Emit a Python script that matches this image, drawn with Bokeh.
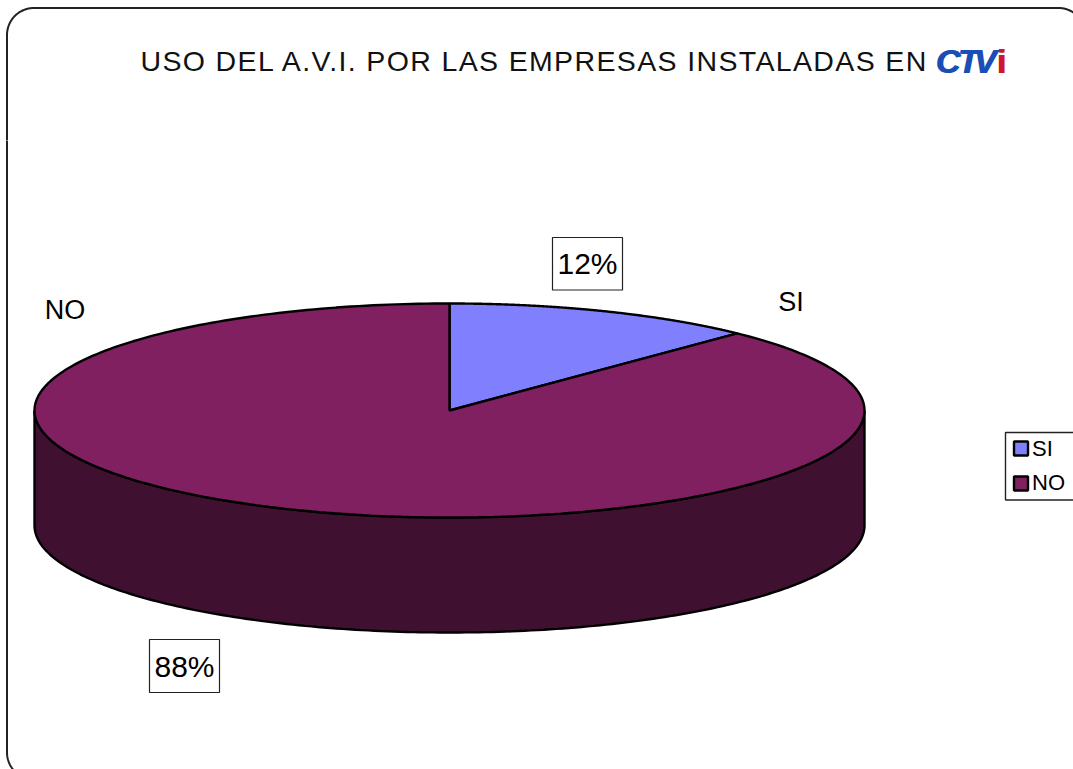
import numpy as np
from bokeh.plotting import figure
from bokeh.layouts import column
from bokeh.models import Range1d
from bokeh.core.properties import value
from bokeh.embed import file_html
from bokeh.resources import INLINE

categories = ["SI", "NO"]
shares = [12.2, 87.8]
pct_labels = ["12%", "88%"]
title_text = "USO DEL A.V.I. POR LAS EMPRESAS INSTALADAS EN"
colors = ["#8080FF", "#802060"]
side_color = "#401030"

W, H, SPLIT = 1073, 769, 140
FONT = value("Liberation Sans")


def panel(y0, y1, **kw):
    f = figure(width=W, height=y1 - y0, x_range=Range1d(0, W), y_range=Range1d(y1, y0),
               toolbar_location=None, output_backend="svg", min_border=0,
               outline_line_color=None, background_fill_color="white",
               border_fill_color="white", **kw)
    f.axis.visible = False
    f.grid.visible = False
    return f


top = panel(0, SPLIT, styles={"letter-spacing": "1.36px"})
p = panel(SPLIT, H)

# frame with rounded corners, one open path per panel so nothing runs across the seam
r = 27
t = np.linspace(0, np.pi / 2, 24)
L, T, R, B = 6.5, 7.5, 1085, 779
top.line(np.r_[L, L + r - r * np.cos(t), R - r + r * np.sin(t), R],
         np.r_[SPLIT + 2, T + r - r * np.sin(t), T + r - r * np.cos(t), SPLIT + 2],
         line_color="#222222", line_width=2)
p.line(np.r_[L, L + r - r * np.sin(t)[::-1], R - r + r * np.cos(t)[::-1], R],
       np.r_[SPLIT - 2, B - r + r * np.cos(t)[::-1], B - r + r * np.sin(t)[::-1], SPLIT - 2],
       line_color="#222222", line_width=2)

# 3D pie
cx, cy, rx, ry, depth = 449, 410, 415, 107, 115


def ell(a, dy=0):
    return cx + rx * np.sin(a), cy + ry * -np.cos(a) + dy


# side wall (lower half)
a_low = np.linspace(np.pi / 2, 3 * np.pi / 2, 200)
x1, y1 = ell(a_low)
x2, y2 = ell(a_low, depth)
p.patch(np.r_[x2, x1[::-1]], np.r_[y2, y1[::-1]], fill_color=side_color,
        line_color="black", line_width=2.4)

# slices
start = 0.0
for share, col in zip(shares, colors):
    end = start + share / sum(shares) * 2 * np.pi
    a = np.linspace(start, end, 300)
    x, y = ell(a)
    p.patch(np.r_[cx, x], np.r_[cy, y], fill_color=col, line_color="black", line_width=2.4)
    start = end

# category labels
p.text([790.5, 64.5], [301.5, 309.5], text=categories, text_font=FONT, text_font_size="27px",
       text_color="black", text_align="center", text_baseline="middle")

# percentage labels in boxes
p.quad(left=[552, 149], right=[622, 219], top=[237, 639], bottom=[289.5, 692],
       fill_color="white", line_color="#222222", line_width=1.2)
p.text([587, 184], [263, 665.5], text=pct_labels, text_font=FONT, text_font_size="30px",
       text_color="black", text_align="center", text_baseline="middle")

# title
top.text([140], [60.5], text=[title_text], text_font=FONT, text_font_size="28.5px",
         text_color="#111111", text_align="left", text_baseline="middle")

# logo
for dx in (0, 1):
    top.text([935 + dx, 957 + dx, 973 + dx], [60, 60, 60], text=["C", "T", "V"], text_font=FONT,
             text_font_size="34px", text_font_style="bold italic", text_color="#1A4DB5",
             text_align="left", text_baseline="middle")
top.text([996, 997], [60, 60], text=["i", "i"], text_font=FONT, text_font_size="34px",
         text_font_style="bold", text_color="#D0152F", text_align="left", text_baseline="middle")

# legend
p.quad(left=[1005], right=[1090], top=[432], bottom=[499.5], fill_color="white",
       line_color="#222222", line_width=1.4)
p.quad(left=[1013.5, 1013.5], right=[1027.5, 1027.5], top=[441, 476], bottom=[455, 490],
       fill_color=colors, line_color="black", line_width=2.4)
p.text([1031.5, 1031.5], [448, 482], text=categories, text_font=FONT, text_font_size="22px",
       text_color="black", text_align="left", text_baseline="middle")

page = column(top, p, spacing=0)
open("out.html", "w").write(file_html(page, INLINE))
